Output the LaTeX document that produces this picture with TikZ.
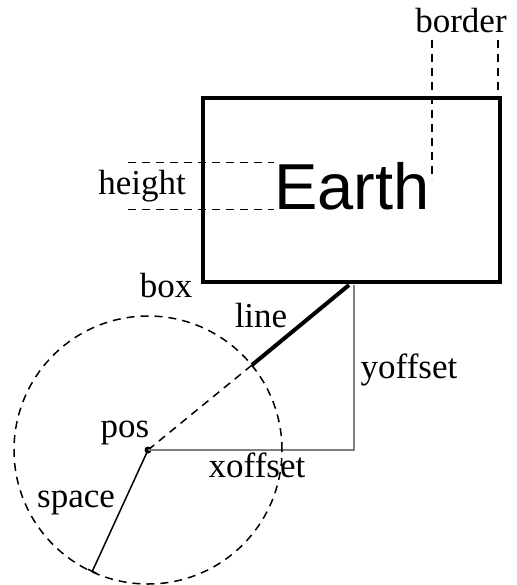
\documentclass[tikz,border=0pt]{standalone}
\usepackage{fontspec}
\setmainfont{Liberation Serif}
\newfontfamily\earthfont{Liberation Sans}
\usetikzlibrary{arrows.meta, positioning, calc}

\begin{document}
\begin{tikzpicture}[x=1pt,y=-1pt,
    lbl/.style={font=\fontsize{35}{40}\selectfont, inner sep=0pt, anchor=base},
    guide/.style={line width=1.5pt, dash pattern=on 8pt off 6pt}]
        \useasboundingbox (0,0) rectangle (516,585);
        % the box and its text
        \node[draw, line width=4pt, minimum width=297pt, minimum height=184pt, inner sep=0pt] (box) at (351.5,190) {};
        \node[inner sep=0pt, font=\earthfont\fontsize{65}{70}\selectfont] (earth) at (352,186.5) {Earth};
        \node[lbl] (boxlbl) at (166,297) {box};
        % height
        \coordinate (hx) at (128,0);
        \draw[guide] (hx |- earth.north) -- (earth.north west);
        \draw[guide] (hx |- earth.base) -- (earth.base west);
        \node[lbl] (height) at (142,195) {height};
        % border
        \coordinate (bdl) at (432,40);
        \coordinate (bdlend) at (432,180);
        \coordinate (bdr) at (498,40);
        \draw[guide] (bdl) -- (bdlend);
        \draw[guide] (bdr) -- (bdr |- box.north);
        \node[lbl] (border) at (461,33) {border};
        % line, pos and offsets
        \coordinate (lbeg) at (349,285);
        \coordinate (lend) at (252,365);
        \coordinate (ytop) at (354,285);
        \coordinate (spend) at (92,572);
        \node[circle, fill, inner sep=0pt, minimum size=7pt] (pos) at (148,450) {};
        \draw[line width=4pt] (lbeg) -- (lend);
        \draw[guide] (pos.center) -- (lend);
        \draw[gray, line width=1.5pt] (pos.center) -| (ytop);
        \draw[guide] (pos.center) circle[radius=134pt];
        \draw[line width=1.5pt, -{Bar[width=10pt]}] (pos.center) -- (spend);
        \node[lbl] (linelbl) at (261,327) {line};
        \node[lbl] (yoff) at (409,378) {yoffset};
        \node[lbl] (xoff) at (257,477) {xoffset};
        \node[lbl] (poslbl) at (125,437) {pos};
        \node[lbl] (space) at (76,507) {space};
\end{tikzpicture}
\end{document}
